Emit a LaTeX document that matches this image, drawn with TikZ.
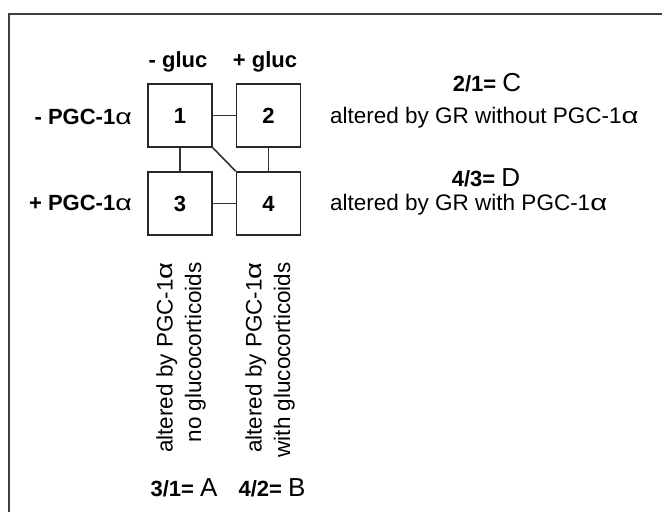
\documentclass[tikz,border=0pt]{standalone}
\usepackage{fontspec}
\setmainfont{Liberation Sans}
\newcommand{\alf}{{\mdseries\scalebox{1.3}[1.0]{α}}}
\begin{document}
\begin{tikzpicture}[x=1pt,y=-1pt,
  cell/.style={draw=black!85,line width=1.6pt,minimum width=64pt,minimum height=63pt,inner sep=0pt,font=\fontsize{22}{26}\selectfont\bfseries},
  lbl/.style={inner sep=0pt,font=\fontsize{22}{26}\selectfont\bfseries},
  txt/.style={inner sep=0pt,font=\fontsize{22.5}{28.5}\selectfont},
  conn/.style={draw=black!80,line width=1.6pt}]
\useasboundingbox (0,0) rectangle (662,512);
\coordinate (ftl) at (9,14);
\coordinate (ftr) at (662,14);
\coordinate (fbl) at (9,512);
\draw[black!75,line width=2.4pt] (fbl) -- (ftl) -- (ftr);
\node[cell] (b1) at (180,115.5) {1};
\node[cell] (b2) at (268.5,115.5) {2};
\node[cell] (b3) at (180,203.5) {3};
\node[cell] (b4) at (268.5,203.5) {4};
\draw[conn] (b1) -- (b2);
\draw[conn] (b3) -- (b4);
\draw[conn] (b1) -- (b3);
\draw[conn] (b2) -- (b4);
\draw[conn] (b1.south east) -- (b4.north west);
\node[lbl,anchor=east] (lm) at (132,117) {- PGC-1\alf};
\node[lbl,anchor=east] (lp) at (132,203) {+ PGC-1\alf};
\node[lbl] (gm) at (178,62) {- gluc};
\node[lbl] (gp) at (265,62) {+ gluc};
\node[lbl] (c) at (487,83) {2/1= {\mdseries\fontsize{26}{26}\selectfont C}};
\node[txt,anchor=west] (ct) at (330,118) {altered by GR without PGC-1\alf};
\node[lbl] (d) at (486,178) {4/3= {\mdseries\fontsize{26}{26}\selectfont D}};
\node[txt,anchor=west] (dt) at (330,205) {altered by GR with PGC-1\alf};
\node[txt,rotate=90,anchor=east,align=right] (at) at (181,262) {altered by PGC-1\alf\\no glucocorticoids};
\node[txt,rotate=90,anchor=east,align=right] (bt) at (270,262) {altered by PGC-1\alf\\with glucocorticoids};
\node[lbl] (a) at (184,488) {3/1= {\mdseries\fontsize{26}{26}\selectfont A}};
\node[lbl] (b) at (272,488) {4/2= {\mdseries\fontsize{26}{26}\selectfont B}};
\end{tikzpicture}
\end{document}
